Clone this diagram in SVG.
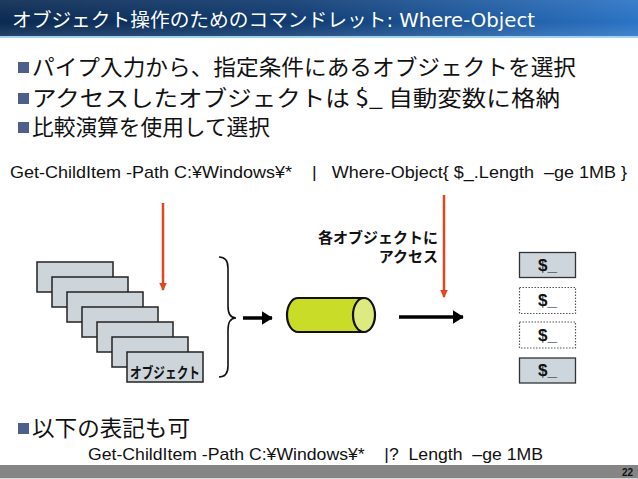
<svg xmlns="http://www.w3.org/2000/svg" width="638" height="479" viewBox="0 0 638 479">
<defs>
<linearGradient id="tg" x1="0" y1="0" x2="1" y2="0">
<stop offset="0" stop-color="#0b2a52"/>
<stop offset="0.45" stop-color="#0f3a70"/>
<stop offset="1" stop-color="#2b74c6"/>
</linearGradient>
<linearGradient id="tv" x1="0" y1="0" x2="0" y2="1">
<stop offset="0" stop-color="#ffffff" stop-opacity="0.08"/>
<stop offset="0.6" stop-color="#ffffff" stop-opacity="0"/>
<stop offset="1" stop-color="#ffffff" stop-opacity="0.12"/>
</linearGradient>
<marker id="ah" markerWidth="4" markerHeight="4" refX="3" refY="2" orient="auto" markerUnits="strokeWidth">
<path d="M0,0 L3.2,2 L0,4 Z" fill="#000"/>
</marker>
<marker id="rh" markerWidth="4" markerHeight="4" refX="3" refY="2" orient="auto" markerUnits="strokeWidth">
<path d="M0,0.4 L3.4,2 L0,3.6 Z" fill="#e2461e"/>
</marker>
</defs>
<style>
.jp{font-family:"Noto Sans CJK JP","DejaVu Sans",sans-serif;}
.bl{font-size:22px;fill:#111;}
.cmd{font-family:"Liberation Sans",Arial,sans-serif;font-size:17px;fill:#111;white-space:pre;}
.stk{fill:#cdd5db;stroke:#222;stroke-width:1.5;}
.box{fill:#cdd6dc;stroke:#333;stroke-width:1.3;}
.dbox{fill:#fff;stroke:#555;stroke-width:1.2;stroke-dasharray:1.5 1.5;}
.dl{font-family:"Liberation Sans",Arial,sans-serif;font-weight:bold;font-size:17px;fill:#111;text-anchor:middle;}
.red{stroke:#e2461e;stroke-width:2.5;fill:none;}
.blk{stroke:#000;stroke-width:3.5;fill:none;}
.bul{fill:#4f5f8c;}
</style>

<g id="title">
<rect x="0" y="0" width="638" height="37" fill="url(#tg)"/>
<rect x="0" y="0" width="638" height="37" fill="url(#tv)"/>
<rect x="0" y="36" width="638" height="2" fill="#9fd3ee"/>
<text x="12" y="27" font-family="DejaVu Sans,'Noto Sans CJK JP',sans-serif" font-size="19" fill="#fff" textLength="523" lengthAdjust="spacingAndGlyphs">オブジェクト操作のためのコマンドレット: Where-Object</text>
</g>

<g id="bullets">
<rect class="bul" x="18" y="62" width="11" height="11"/>
<text class="jp bl" x="32" y="75" textLength="544" lengthAdjust="spacingAndGlyphs">パイプ入力から、指定条件にあるオブジェクトを選択</text>
<rect class="bul" x="18" y="93" width="11" height="11"/>
<text class="jp bl" x="32" y="106" textLength="528" lengthAdjust="spacingAndGlyphs">アクセスしたオブジェクトは $_ 自動変数に格納</text>
<rect class="bul" x="18" y="122" width="11" height="11"/>
<text class="jp bl" x="32" y="135" textLength="238" lengthAdjust="spacingAndGlyphs">比較演算を使用して選択</text>
</g>

<g id="command1">
<text class="cmd" x="10" y="178" textLength="617" lengthAdjust="spacingAndGlyphs">Get-ChildItem -Path C:¥Windows¥*    |   Where-Object{ $_.Length  –ge 1MB }</text>
</g>

<g id="objects">
<rect class="stk" x="37" y="262" width="76" height="30"/>
<rect class="stk" x="52" y="277" width="76" height="30"/>
<rect class="stk" x="67" y="292" width="76" height="30"/>
<rect class="stk" x="82" y="307" width="76" height="30"/>
<rect class="stk" x="97" y="322" width="76" height="30"/>
<rect class="stk" x="112" y="337" width="76" height="30"/>
<rect class="stk" x="127" y="352" width="76" height="30"/>
<text x="165" y="378" font-family="'Noto Sans CJK JP',sans-serif" font-weight="bold" font-size="15" fill="#111" text-anchor="middle" textLength="70" lengthAdjust="spacingAndGlyphs">オブジェクト</text>
</g>

<g id="brace">
<path d="M219,257 Q228,257 228,268 V306 Q228,318 236,318 Q228,318 228,330 V366 Q228,377 219,377" fill="none" stroke="#111" stroke-width="1.6"/>
</g>

<g id="pipe">
<path d="M364,298 H298 A11,17 0 0 0 298,332 H364" fill="#c8dc28" stroke="#111" stroke-width="2.2"/>
<ellipse cx="364" cy="315" rx="11" ry="17" fill="#dcea80" stroke="#111" stroke-width="2.2"/>
</g>

<g id="access-label">
<text x="438" y="243" font-family="'Noto Sans CJK JP',sans-serif" font-weight="bold" font-size="15" fill="#111" text-anchor="end">各オブジェクトに</text>
<text x="438" y="262" font-family="'Noto Sans CJK JP',sans-serif" font-weight="bold" font-size="15" fill="#111" text-anchor="end">アクセス</text>
</g>

<g id="vars">
<rect class="box" x="519.5" y="252.5" width="56" height="25"/>
<text class="dl" x="547.5" y="271">$_</text>
<rect class="dbox" x="519.5" y="287.5" width="56" height="26"/>
<text class="dl" x="547.5" y="306">$_</text>
<rect class="dbox" x="519.5" y="322" width="56" height="26"/>
<text class="dl" x="547.5" y="341">$_</text>
<rect class="box" x="519.5" y="358" width="56" height="25"/>
<text class="dl" x="547.5" y="376">$_</text>
</g>

<g id="connectors">
<line class="red" x1="163" y1="203" x2="163" y2="290" marker-end="url(#rh)"/>
<line class="red" x1="444" y1="195" x2="444" y2="297" marker-end="url(#rh)"/>
<line class="blk" x1="243" y1="318" x2="272" y2="318" marker-end="url(#ah)"/>
<line class="blk" x1="399" y1="317" x2="463" y2="317" marker-end="url(#ah)"/>
</g>

<g id="alt">
<rect class="bul" x="18" y="423" width="11" height="11"/>
<text class="jp bl" x="32" y="436" textLength="158" lengthAdjust="spacingAndGlyphs">以下の表記も可</text>
<text class="cmd" x="88" y="460" textLength="455" lengthAdjust="spacingAndGlyphs">Get-ChildItem -Path C:¥Windows¥*    |?  Length  –ge 1MB</text>
</g>

<g id="footer">
<rect x="0" y="465" width="638" height="13" fill="#858585"/>
<rect x="0" y="478" width="638" height="1" fill="#d8d8d8"/>
<text x="633" y="476" font-family="'Liberation Sans',Arial,sans-serif" font-weight="bold" font-size="10" fill="#111" text-anchor="end">22</text>
</g>
</svg>
